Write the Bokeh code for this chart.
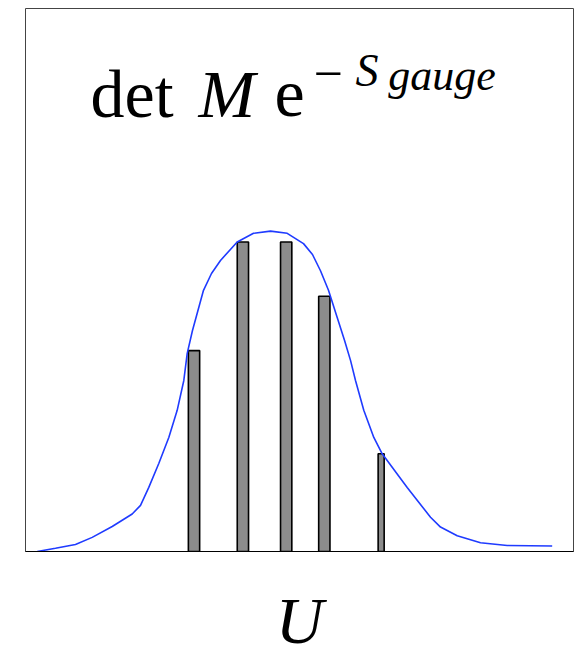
from bokeh.plotting import figure
from bokeh.models import Range1d, Label, FixedTicker
from bokeh.embed import file_html
from bokeh.resources import INLINE

# histogram bins (centre, width, height)
bar_x = [3.075, 3.967, 4.757, 5.453, 6.49]
bar_w = [0.206, 0.206, 0.206, 0.206, 0.11]
bar_h = [0.370, 0.570, 0.570, 0.470, 0.180]

# smooth distribution curve
curve_x = [0.214, 0.547, 0.912, 1.217, 1.582, 1.947, 2.099, 2.250, 2.432, 2.615,
           2.768, 2.889, 2.951, 3.047, 3.248, 3.394, 3.558, 3.863, 4.161, 4.471,
           4.776, 5.073, 5.237, 5.383, 5.529, 5.688, 5.821, 5.931, 6.022, 6.173,
           6.356, 6.509, 6.965, 7.391, 7.573, 7.878, 8.303, 8.790, 9.611]
curve_y = [0.000, 0.006, 0.013, 0.026, 0.046, 0.069, 0.085, 0.118, 0.162, 0.210,
           0.260, 0.315, 0.365, 0.407, 0.481, 0.512, 0.536, 0.570, 0.586, 0.590,
           0.586, 0.567, 0.547, 0.517, 0.481, 0.431, 0.389, 0.352, 0.315, 0.260,
           0.210, 0.180, 0.118, 0.063, 0.045, 0.029, 0.016, 0.011, 0.010]

FONT = "Liberation Serif"

p = figure(width=580, height=659, output_backend="svg", toolbar_location=None,
           x_range=Range1d(0, 10), y_range=Range1d(0, 1),
           min_border_left=25, min_border_right=7, min_border_top=8,
           min_border_bottom=10)
p.grid.visible = False
p.yaxis.visible = False
p.outline_line_color = "#444444"
p.outline_line_width = 1
p.background_fill_color = "white"
p.border_fill_color = "white"

ax = p.xaxis[0]
ax.ticker = FixedTicker(ticks=[])
ax.axis_label = "U"
ax.axis_label_text_font = FONT
ax.axis_label_text_font_style = "italic"
ax.axis_label_text_font_size = "66px"
ax.axis_label_text_color = "black"
ax.axis_label_standoff = 32
ax.major_tick_line_color = None
ax.minor_tick_line_color = None
ax.axis_line_color = "black"
ax.axis_line_width = 1

p.vbar(x=bar_x, width=bar_w, top=bar_h, bottom=0,
       fill_color="#8c8c8c", line_color="black", line_width=1.6)
p.line(curve_x, curve_y, line_color="#1f3bff", line_width=1.6)

def lab(x, y, t, size, style="normal", align="left"):
    p.add_layout(Label(x=x, y=y, text=t, text_font=FONT, text_font_size=size,
                       text_font_style=style, text_align=align,
                       text_baseline="alphabetic", text_color="black"))

lab(1.186, 0.843, "det", "68px")
lab(3.157, 0.843, "M", "68px", "italic")
lab(4.544, 0.843, "e", "68px")
lab(5.255, 0.881, "\u2212", "52px")
lab(6.02, 0.886, "S", "46px", "italic")
lab(6.62, 0.876, "gauge", "44px", "italic")

open("out.html", "w").write(file_html(p, INLINE))
